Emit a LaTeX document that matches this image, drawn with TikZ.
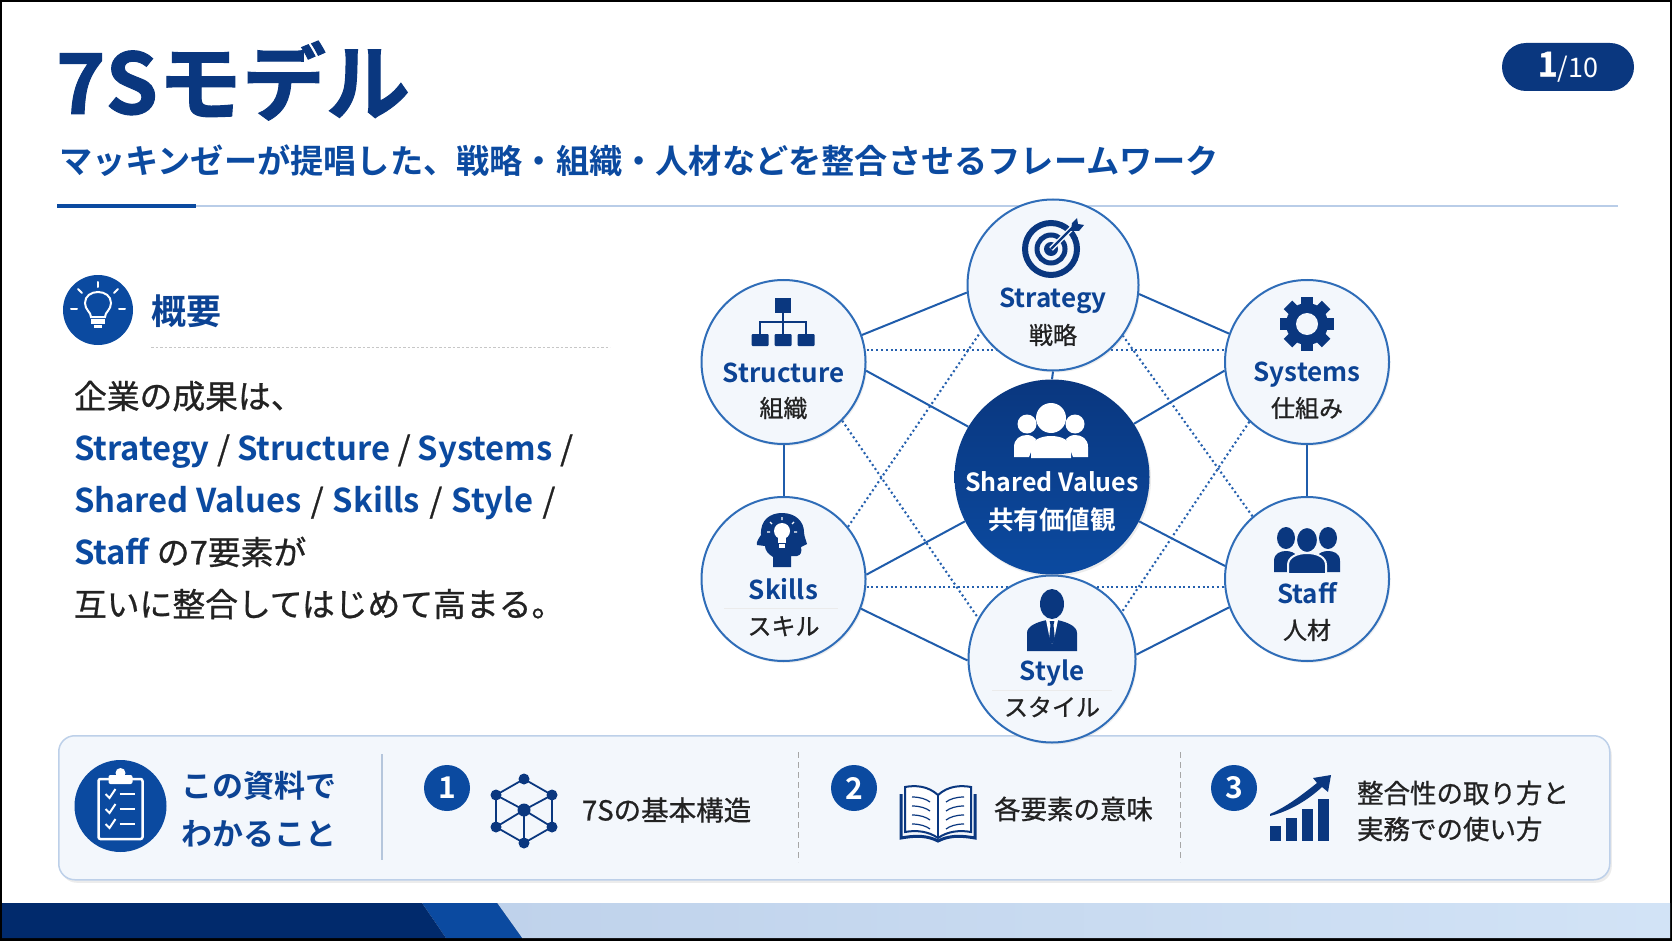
\documentclass[tikz,border=0pt]{standalone}
\usepackage{fontspec}
\setmainfont{Noto Sans CJK JP}
\newfontfamily\jpr{Noto Sans CJK JP}[BoldFont={Noto Sans CJK JP Bold}]
\newfontfamily\jpm{Noto Sans CJK JP}[FakeBold=0.8]
\newfontfamily\jpb{Noto Sans CJK JP Bold}
\newfontfamily\jph{Noto Sans CJK JP Bold}[FakeBold=1.2]
\usetikzlibrary{shadows,calc}
\pgfdeclarelayer{bglayer}\pgfdeclarelayer{edgelayer}
\pgfsetlayers{bglayer,edgelayer,main}
\definecolor{navy}{HTML}{0A377F}
\definecolor{midblue}{HTML}{0B4AA0}
\definecolor{ink}{HTML}{0C4394}
\definecolor{ring}{HTML}{2F6DB8}
\definecolor{linec}{HTML}{1F5CAB}
\definecolor{dotc}{HTML}{2560AE}
\definecolor{pale}{HTML}{F3F7FC}
\definecolor{txt}{HTML}{222222}
\definecolor{foota}{HTML}{BFD2EB}
\definecolor{footb}{HTML}{D2E3F6}
\definecolor{footnavy}{HTML}{012A6C}
\definecolor{rulec}{HTML}{B9CDE8}
\definecolor{panelc}{HTML}{BDD0E9}
\definecolor{sepc}{HTML}{B5C6DC}
\newcommand\fsz[1]{\fontsize{#1}{#1}\selectfont}
\tikzset{
  x=1pt,y=-1pt,line width=1pt,
  lbl/.style={inner sep=0pt,outer sep=0pt,execute at begin node={\rule[-.12em]{0pt}{1em}}},
  ball/.style={circle,draw=ring,line width=2pt,fill=pale,minimum size=#1,inner sep=0pt,
     drop shadow={opacity=.12,shadow xshift=1.5pt,shadow yshift=-2pt}},
  solidedge/.style={draw=linec,line width=2pt},
  dotedge/.style={draw=dotc,line width=2.1pt,dash pattern=on 2pt off 2.8pt},
  enname/.style={lbl,font=\jpb\fsz{26},text=ink},
  janame/.style={lbl,font=\jpm\fsz{24},text=txt},
  bodyline/.style={lbl,anchor=west,font=\jpm\fsz{32.8},text=txt},
  numbadge/.style={circle,fill=midblue,minimum size=46pt,inner sep=0pt,text=white,font=\jpb\fsz{30}},
  item/.style={lbl,anchor=west,font=\jpm\fsz{27.5},text=txt},
  itemb/.style={lbl,anchor=west,font=\jpm\fsz{26.5},text=txt},
  divdash/.style={draw=black!35,line width=1pt,dash pattern=on 6pt off 4pt},
}
\newcommand\kw[1]{{\jpb\textcolor{midblue}{#1}}}
\begin{document}
\begin{tikzpicture}
\useasboundingbox (0,0) rectangle (1672,941);
\begin{pgfonlayer}{bglayer}
\fill[black] (0,0) rectangle (1672,941);
\fill[white] (2,2.5) rectangle (1670,938);
% footer
\fill[left color=foota,right color=footb] (497,903) -- (1670,903) -- (1670,938) -- (522,938) -- cycle;
\fill[midblue] (422,903) -- (497,903) -- (522,938) -- (446,938) -- cycle;
\fill[footnavy] (2,903) -- (422,903) -- (446,938) -- (2,938) -- cycle;
% bottom panel
\node[draw=panelc,line width=1.5pt,fill=pale,rounded corners=16pt,minimum width=1551pt,minimum height=144pt,inner sep=0pt,anchor=north west,
  drop shadow={opacity=.15,shadow xshift=2pt,shadow yshift=-3pt}] (panel) at (58,735) {};
\end{pgfonlayer}

% title block
\node[lbl,anchor=west,font=\jph\fsz{84},text=navy] (title) at (56,82) {7Sモデル};
\node[lbl,anchor=west,font=\jpb\fsz{33.2},text=midblue] (sub) at (59,161) {マッキンゼーが提唱した、戦略・組織・人材などを整合させるフレームワーク};
\fill[rulec] (195,205.4) rectangle (1618,206.8);
\fill[midblue] (57,204) rectangle (196,208.5);

% page badge
\node[fill=navy,rounded corners=24pt,minimum width=132pt,minimum height=48pt,inner sep=0pt,
  text=white] (page) at (1568,67) {\raisebox{1pt}{\jph\fsz{34}1}{\jpr\fsz{27}/10}};

% overview heading
\node[circle,fill=midblue,minimum size=70pt,inner sep=0pt] (ovc) at (98,310) {};
\begin{scope}[shift={(98,310)},white]
 \draw[white,line width=2pt] (-7,7) .. controls (-7,2) and (-13,0) .. (-13,-7)
    .. controls (-13,-14) and (-7,-18) .. (0,-18) .. controls (7,-18) and (13,-14) .. (13,-7)
    .. controls (13,0) and (7,2) .. (7,7) -- cycle;
 \fill[white] (-7,9) rectangle (7,14);
 \fill[white] (-4,15) rectangle (4,18);
 \draw[white,line width=2pt,line cap=round] (0,-28) -- (0,-23);
 \draw[white,line width=2pt,line cap=round] (-20,-21) -- (-16,-17);
 \draw[white,line width=2pt,line cap=round] (20,-21) -- (16,-17);
 \draw[white,line width=2pt,line cap=round] (-27,-1) -- (-21,-1);
 \draw[white,line width=2pt,line cap=round] (27,-1) -- (21,-1);
\end{scope}
\node[lbl,anchor=west,font=\jpb\fsz{35},text=ink] (ovt) at (151,311) {概要};
\draw[black!22,line width=1pt,dash pattern=on 2.5pt off 2pt] (151,347.5) -- (610,347.5);

% body
\node[bodyline] (l1) at (74,396) {企業の成果は、};
\node[bodyline] (l2) at (74,450) {\kw{Strategy} / \kw{Structure} / \kw{Systems} /};
\node[bodyline] (l3) at (74,502) {\kw{Shared Values}\hspace{2pt} / \hspace{2pt}\kw{Skills}\hspace{2pt} / \hspace{2pt}\kw{Style}\hspace{2pt} /};
\node[bodyline] (l4) at (74,552) {\kw{Staff} の7要素が};
\node[bodyline] (l5) at (74,604) {互いに整合してはじめて高まる。};

% diagram nodes
\node[ball=171pt] (strategy) at (1053,285) {};
\node[ball=164pt] (structure) at (783.5,362) {};
\node[ball=164pt] (systems) at (1307,362) {};
\node[ball=164pt] (skills) at (783.5,579) {};
\node[ball=164pt] (staff) at (1307,579) {};
\node[ball=167pt] (style) at (1052,659) {};
\node[circle,minimum size=195pt,inner sep=0pt,top color=navy,bottom color=midblue,
   drop shadow={opacity=.15,shadow xshift=1.5pt,shadow yshift=-2pt}] (values) at (1052,477) {};

\begin{pgfonlayer}{edgelayer}
\draw[solidedge] (structure.19) -- (strategy.185);
\draw[solidedge] (strategy.-6.5) -- (systems.160);
\draw[solidedge] (structure.-6) -- (values.149.5);
\draw[solidedge] (systems.186) -- (values.33);
\draw[solidedge] (strategy.270) -- (values.90);
\draw[solidedge] (structure.270) -- (skills.90);
\draw[solidedge] (systems.270) -- (staff.90);
\draw[solidedge] (skills.3.5) -- (values.207);
\draw[solidedge] (staff.171) -- (values.333);
\draw[solidedge] (skills.-21.7) -- (style.181);
\draw[solidedge] (style.3.5) -- (staff.200.6);
\draw[dotedge] ($(structure.east)+(0,-12)$) -- ($(systems.west)+(0,-12)$);
\draw[dotedge] ($(skills.east)+(0,8)$) -- ($(staff.west)+(0,8)$);
\draw[dotedge] (skills.39) -- (strategy.213.7);
\draw[dotedge] (structure.-45) -- (style.151);
\draw[dotedge] (systems.226) -- (style.34);
\draw[dotedge] (staff.131.6) -- (strategy.-36);
\end{pgfonlayer}

% diagram labels
\node[enname] (t1) at (1053,299) {Strategy};
\node[janame] (j1) at (1053,335) {戦略};
\node[enname] (t2) at (783.5,373) {Structure};
\node[janame] (j2) at (783.5,408) {組織};
\node[enname] (t3) at (1307,373) {Systems};
\node[janame] (j3) at (1307,408) {仕組み};
\node[enname] (t4) at (783.5,590) {Skills};
\node[janame] (j4) at (783.5,626) {スキル};
\node[enname] (t5) at (1307,594) {Staff};
\node[janame] (j5) at (1307,630) {人材};
\node[enname] (t6) at (1052,672) {Style};
\node[janame] (j6) at (1052,707) {スタイル};
\node[lbl,font=\jpb\fsz{25},text=white] (t7) at (1052,482) {Shared Values};
\node[lbl,font=\jpb\fsz{25.5},text=white] (j7) at (1052,520) {共有価値観};
\draw[black!8,line width=.8pt] (724,608) -- (838,608);
\draw[black!8,line width=.8pt] (992,690) -- (1112,690);

% target icon
\begin{scope}[shift={(1051,249)}]
 \draw[navy,line width=6pt] (0,0) circle (26);
 \draw[navy,line width=5pt] (0,0) circle (14);
 \fill[navy] (0,0) circle (7);
 \draw[pale,line width=5pt] (0,0) -- (22,-22);
 \draw[navy,line width=2.4pt] (0,0) -- (24,-24);
 \fill[navy] (20,-18) -- (21,-26) -- (26,-31) -- (27,-25) -- (33,-24) -- (28,-18) -- cycle;
\end{scope}
% org icon
\begin{scope}[shift={(783,0)}]
 \draw[navy,line width=1.6pt] (0,310) -- (0,335) (-23,335) -- (-23,322) -- (23,322) -- (23,335);
 \fill[navy] (-8,298) rectangle (8,313);
 \foreach \xx in {-23,0,23} \fill[navy,rounded corners=1pt] (\xx-8.5,334) rectangle (\xx+8.5,346);
\end{scope}
% gear icon
\begin{scope}[shift={(1307,324)}]
 \foreach \a in {0,45,...,315} \fill[navy,rotate=\a] (-6,-27) rectangle (6,-14);
 \fill[navy] (0,0) circle (21);
 \fill[pale] (0,0) circle (11);
\end{scope}
% head icon
\begin{scope}[shift={(782,540)}]
 \fill[navy] (-9,27) -- (-9,17) .. controls (-14,14) and (-17,10) .. (-17,6)
   -- (-25,5) .. controls (-26,2) and (-23,-2) .. (-21,-5)
   .. controls (-22,-20) and (-12,-27) .. (0,-27) .. controls (14,-27) and (22,-18) .. (22,-8)
   .. controls (22,-4) and (24,0) .. (25,4) -- (19,7) .. controls (20,12) and (19,15) .. (15,16)
   -- (9,16) -- (9,27) -- cycle;
 \fill[white] (0,-9) circle (8);
 \fill[white] (-4,-5) rectangle (4,3);
 \fill[white] (-3,4) rectangle (3,8);
 \draw[white,line width=1.3pt] (0,-23) -- (0,-20) (-12,-18) -- (-10,-16) (12,-18) -- (10,-16) (-15,-8) -- (-12,-8) (15,-8) -- (12,-8);
\end{scope}
% staff icon
\begin{scope}[shift={(1307,0)}]
 \fill[navy] (-21,538) ellipse (9 and 11);
 \fill[navy] (21,538) ellipse (9 and 11);
 \fill[navy] (-33,572) -- (-33,561) .. controls (-33,553) and (-26,551) .. (-21,551) .. controls (-16,551) and (-12,553) .. (-10,556) -- (-10,572) -- cycle;
 \fill[navy] (33,572) -- (33,561) .. controls (33,553) and (26,551) .. (21,551) .. controls (16,551) and (12,553) .. (10,556) -- (10,572) -- cycle;
 \draw[pale,line width=2pt,fill=navy] (0,540) ellipse (11 and 13);
 \draw[pale,line width=2pt,fill=navy] (-19,574) -- (-19,565) .. controls (-19,557) and (-10,553) .. (0,553) .. controls (10,553) and (19,557) .. (19,565) -- (19,574) -- cycle;
\end{scope}
% style icon
\begin{scope}[shift={(1052,0)}]
 \fill[navy] (0,604) ellipse (12 and 15);
 \fill[navy] (-25,651) -- (-25,633) .. controls (-25,626) and (-15,622) .. (-5,620) -- (5,620) .. controls (15,622) and (25,626) .. (25,633) -- (25,651) -- cycle;
 \fill[white] (-6,620) -- (6,620) -- (2,640) -- (0,644) -- (-2,640) -- cycle;
 \fill[navy] (-2.4,621) -- (2.4,621) -- (1.5,625) -- (3,640) -- (0,644) -- (-3,640) -- (-1.5,625) -- cycle;
\end{scope}
% shared values icon
\begin{scope}[shift={(1051,0)}]
 \fill[white] (-24,424) circle (9.5);
 \fill[white] (24,424) circle (9.5);
 \fill[white] (-37,457) -- (-37,447) .. controls (-37,439) and (-31,435) .. (-24,435) .. controls (-20,435) and (-17,437) .. (-15,439) -- (-22,457) -- cycle;
 \fill[white] (37,457) -- (37,447) .. controls (37,439) and (31,435) .. (24,435) .. controls (20,435) and (17,437) .. (15,439) -- (22,457) -- cycle;
 \fill[white] (0,418) ellipse (15 and 15);
 \fill[white] (-20,458) -- (-20,449) .. controls (-20,440) and (-10,436) .. (0,436) .. controls (10,436) and (20,440) .. (20,449) -- (20,458) -- cycle;
\end{scope}

\node[circle,fill=midblue,minimum size=92pt,inner sep=0pt] (clipc) at (120.5,806) {};
\begin{scope}[shift={(120.5,806)}]
 \draw[white,line width=2.5pt,rounded corners=2pt] (-22,-27) rectangle (22,33);
 \fill[white,rounded corners=2pt] (-12,-31) rectangle (12,-22);
 \fill[white] (0,-33) circle (5);
 \foreach \yy in {-12,3,18}{
   \draw[white,line width=2pt] (-15,\yy) -- (-11,\yy+4) -- (-5,\yy-5);
   \draw[white,line width=2pt] (-1,\yy) -- (14,\yy);
 }
\end{scope}
\node[lbl,anchor=west,font=\jpb\fsz{31},text=ink] (k1) at (181,786) {この資料で};
\node[lbl,anchor=west,font=\jpb\fsz{31},text=ink] (k2) at (181,834) {わかること};
\draw[sepc,line width=1.2pt] (382,754) -- (382,860);
\node[numbadge] (n1) at (447,788) {1};
% network icon
\begin{scope}[shift={(524,810)}]
 \coordinate (T) at (0,-31); \coordinate (UL) at (-28,-15); \coordinate (UR) at (28,-15);
 \coordinate (LL) at (-28,17); \coordinate (LR) at (28,17); \coordinate (B) at (0,33); \coordinate (C) at (0,0);
 \draw[navy,line width=1.8pt] (T)--(UR)--(LR)--(B)--(LL)--(UL)--cycle;
 \draw[navy,line width=1.8pt] (UL)--(C)--(UR) (C)--(B) (LL)--(C)--(LR);
 \foreach \p in {T,UL,UR,LL,LR,B} \fill[navy] (\p) circle (5.5);
 \fill[navy] (C) circle (6.5);
\end{scope}
\node[item] (i1) at (582,810) {7Sの基本構造};
\draw[divdash] (798,752) -- (798,862);
\node[numbadge] (n2) at (854,788) {2};
% book icon
\begin{scope}[shift={(938,0)}]
 \draw[navy,line width=2pt,fill=white] (0,795) .. controls (-10,786) and (-22,785) .. (-33,787) -- (-33,832) .. controls (-22,830) and (-10,831) .. (0,838)
    .. controls (10,831) and (22,830) .. (33,832) -- (33,787) .. controls (22,785) and (10,786) .. (0,795) -- cycle;
 \draw[navy,line width=2pt] (0,795) -- (0,838);
 \draw[navy,line width=3pt] (-37,794) -- (-37,838) .. controls (-20,835) and (-10,836) .. (0,841) .. controls (10,836) and (20,835) .. (37,838) -- (37,794);
 \foreach \yy in {797,806,815,824} {
   \draw[navy,line width=1.2pt] (-26,\yy) .. controls (-18,\yy) and (-12,\yy+2) .. (-8,\yy+5);
   \draw[navy,line width=1.2pt] (26,\yy) .. controls (18,\yy) and (12,\yy+2) .. (8,\yy+5);
 }
\end{scope}
\node[itemb] (i2) at (994,809) {各要素の意味};
\draw[divdash] (1180,752) -- (1180,862);
\node[numbadge] (n3) at (1234,788) {3};
% chart icon
\fill[navy] (1270,826) rectangle (1281,841);
\fill[navy] (1286,818) rectangle (1297,841);
\fill[navy] (1302,809) rectangle (1313,841);
\fill[navy] (1318,799) rectangle (1329,841);
\fill[navy] (1270,814) .. controls (1288,806) and (1303,794) .. (1317,783) -- (1313,778) -- (1331,775) -- (1328,792) -- (1322,787) .. controls (1308,800) and (1290,811) .. (1270,816) -- cycle;
\node[itemb] (i3a) at (1357,793) {整合性の取り方と};
\node[itemb] (i3b) at (1357,829) {実務での使い方};
\end{tikzpicture}
\end{document}
